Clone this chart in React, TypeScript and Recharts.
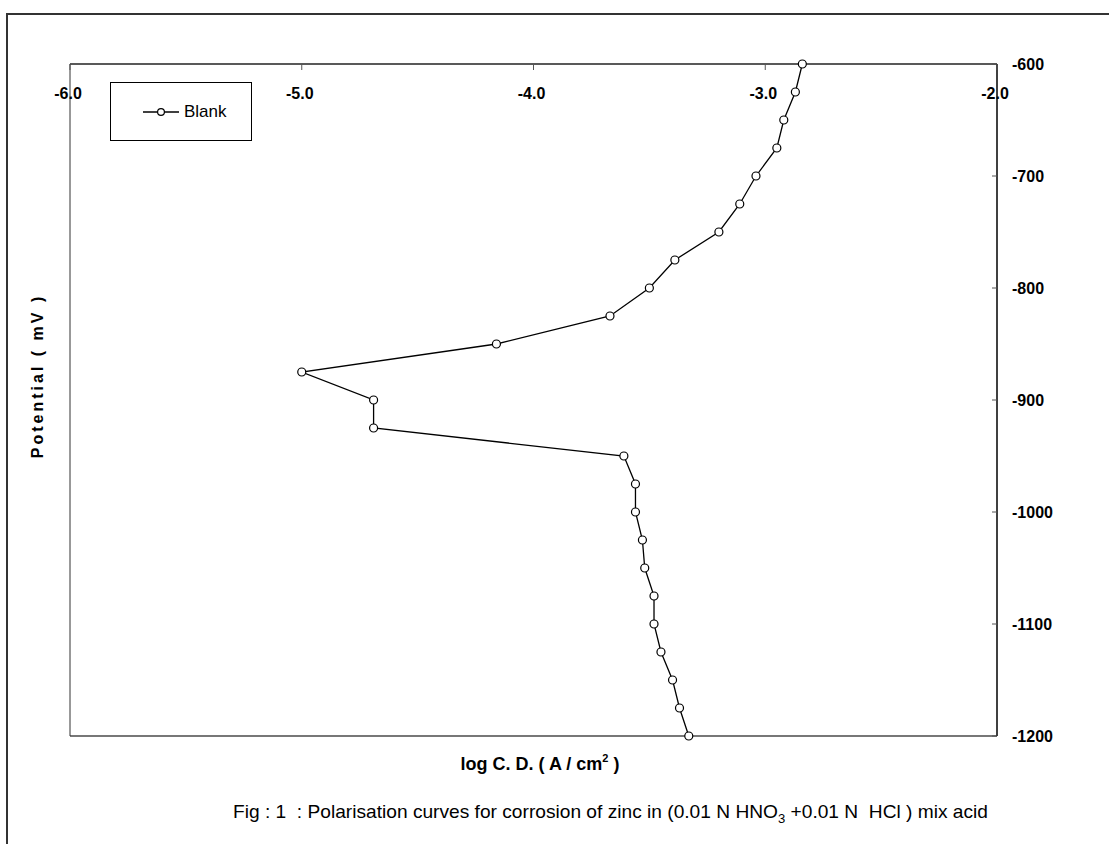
import { Line, LineChart, XAxis, YAxis } from 'recharts';

// Blank: potential (mV) vs log current density (A/cm2)
const potentials = [
  -600, -625, -650, -675, -700, -725, -750, -775, -800, -825, -850, -875, -900,
  -925, -950, -975, -1000, -1025, -1050, -1075, -1100, -1125, -1150, -1175, -1200,
];
const logCD = [
  -2.84, -2.87, -2.92, -2.95, -3.04, -3.11, -3.2, -3.39, -3.5, -3.67, -4.16, -5.0, -4.69,
  -4.69, -3.61, -3.56, -3.56, -3.53, -3.52, -3.48, -3.48, -3.45, -3.4, -3.37, -3.33,
];
const xTicks = [-6, -5, -4, -3, -2];
const yTicks = [-600, -700, -800, -900, -1000, -1100, -1200];

const rows = potentials.map((p, i) => ({ potential: p, logCD: logCD[i] }));

const FONT = 'Arial, "Liberation Sans", Helvetica, sans-serif';

function TopTick(props: any) {
  const { x, y, payload } = props;
  return (
    <g>
      <line x1={x} y1={y} x2={x} y2={y + 6} stroke="#555" strokeWidth={1} />
      <text x={x - 2} y={y + 35} textAnchor="middle" fontFamily={FONT} fontWeight="bold" fontSize={16} fill="#000">
        {payload.value.toFixed(1)}
      </text>
    </g>
  );
}

function RightTick(props: any) {
  const { x, y, payload } = props;
  return (
    <g>
      <line x1={x - 5} y1={y} x2={x} y2={y} stroke="#555" strokeWidth={1} />
      <text x={x + 15} y={y + 6} textAnchor="start" fontFamily={FONT} fontWeight="bold" fontSize={16} fill="#000">
        {payload.value}
      </text>
    </g>
  );
}

function HollowDot(props: any) {
  const { cx, cy } = props;
  if (cx == null || cy == null) return null;
  return <circle cx={cx} cy={cy} r={4} fill="#fff" stroke="#000" strokeWidth={1.2} />;
}

export default function App() {
  return (
    <div style={{ position: 'fixed', left: 0, top: 0, width: 1109, height: 844, overflow: 'hidden', background: '#fff' }}>
      <div
        style={{
          position: 'absolute',
          left: 6,
          top: 13,
          width: 1200,
          height: 900,
          borderTop: '2px solid #333',
          borderLeft: '2px solid #333',
        }}
      />
      <div style={{ position: 'absolute', left: 0, top: 0 }}>
        <LineChart width={1109} height={844} data={rows} margin={{ top: 63, right: 111, bottom: 107, left: 69 }}>
          <XAxis
            xAxisId="top"
            orientation="top"
            type="number"
            dataKey="logCD"
            domain={[-6, -2]}
            ticks={xTicks}
            height={1}
            tickSize={0}
            tickMargin={0}
            tick={<TopTick />}
            axisLine={{ stroke: '#222', strokeWidth: 1.5 }}
          />
          <XAxis
            xAxisId="bottom"
            orientation="bottom"
            type="number"
            dataKey="logCD"
            domain={[-6, -2]}
            height={1}
            tick={false}
            tickLine={false}
            axisLine={{ stroke: '#777', strokeWidth: 2 }}
          />
          <YAxis
            yAxisId="right"
            orientation="right"
            type="number"
            domain={[-1200, -600]}
            ticks={yTicks}
            width={1}
            tickSize={0}
            tickMargin={0}
            tick={<RightTick />}
            axisLine={{ stroke: '#000', strokeWidth: 1.5 }}
          />
          <YAxis
            yAxisId="left"
            orientation="left"
            type="number"
            domain={[-1200, -600]}
            width={1}
            tick={false}
            tickLine={false}
            axisLine={{ stroke: '#333', strokeWidth: 1 }}
          />
          <Line
            xAxisId="top"
            yAxisId="right"
            type="linear"
            dataKey="potential"
            name="Blank"
            stroke="#000"
            strokeWidth={1.3}
            dot={<HollowDot />}
            activeDot={false}
            isAnimationActive={false}
          />
        </LineChart>
      </div>

      <svg width={1109} height={844} style={{ position: 'absolute', left: 0, top: 0, pointerEvents: 'none' }}>
        <text
          transform="translate(43,376) rotate(-90)"
          textAnchor="middle"
          fontFamily={FONT}
          fontWeight="bold"
          fontSize={16}
          letterSpacing={3}
          fill="#000"
        >
          Potential ( mV )
        </text>
        <text x={540} y={770} textAnchor="middle" fontFamily={FONT} fontWeight="bold" fontSize={18} fill="#000" style={{ whiteSpace: 'pre' }}>
          log C. D. ( A / cm
          <tspan dy={-8} fontSize={11}>2</tspan>
          <tspan dy={8}> )</tspan>
        </text>
        <text
          x={233}
          y={818}
          textAnchor="start"
          fontFamily={FONT}
          fontSize={19}
          fill="#000"
          textLength={755}
          lengthAdjust="spacingAndGlyphs"
          style={{ whiteSpace: 'pre' }}
        >
          Fig : 1  : Polarisation curves for corrosion of zinc in (0.01 N HNO
          <tspan dy={5} fontSize={13}>3</tspan>
          <tspan dy={-5}> +0.01 N  HCl ) mix acid</tspan>
        </text>
      </svg>

      <div
        style={{
          position: 'absolute',
          left: 110,
          top: 82,
          width: 142,
          height: 59,
          border: '1px solid #000',
          background: '#fff',
          boxSizing: 'border-box',
          fontFamily: FONT,
          fontSize: 17,
          display: 'flex',
          alignItems: 'center',
        }}
      >
        <svg width={40} height={20} style={{ marginLeft: 31 }}>
          <line x1={1} y1={10} x2={37} y2={10} stroke="#000" strokeWidth={1.3} />
          <circle cx={19} cy={10} r={3.4} fill="#fff" stroke="#000" strokeWidth={1.2} />
        </svg>
        <span style={{ marginLeft: 2 }}>Blank</span>
      </div>
    </div>
  );
}
